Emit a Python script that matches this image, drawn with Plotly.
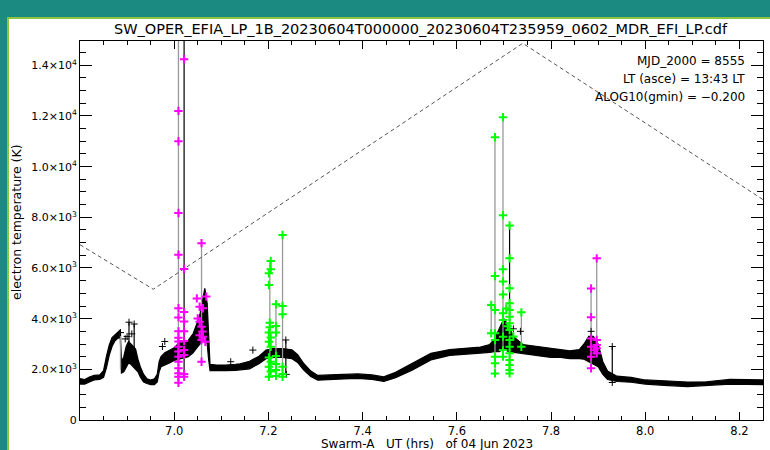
import plotly.graph_objects as go

# ---------------- data ----------------
# black electron-temperature band: time (UT hrs), lower and upper edge (K)
env_t = [6.800, 6.810, 6.820, 6.830, 6.842, 6.850, 6.856, 6.862, 6.868, 6.874, 6.880, 6.8855,
         6.888, 6.893, 6.898, 6.903, 6.908, 6.913, 6.918, 6.923, 6.928, 6.935, 6.942, 6.950,
         6.958, 6.964, 6.968, 6.972, 6.980, 6.990, 7.000, 7.010, 7.020, 7.030, 7.040, 7.048,
         7.055, 7.060, 7.065, 7.070, 7.073, 7.076, 7.090, 7.110, 7.130, 7.140, 7.160, 7.180,
         7.195, 7.210, 7.230, 7.250, 7.262, 7.275, 7.290, 7.305, 7.330, 7.360, 7.390, 7.420,
         7.445, 7.470, 7.505, 7.545, 7.585, 7.620, 7.650, 7.670, 7.680, 7.690, 7.700, 7.710,
         7.720, 7.740, 7.760, 7.780, 7.800, 7.820, 7.840, 7.860, 7.870, 7.880, 7.890, 7.900,
         7.910, 7.920, 7.940, 7.970, 8.000, 8.040, 8.090, 8.130, 8.180, 8.250]
env_lo = [1420, 1420, 1500, 1580, 1600, 1680, 2050, 2550, 2900, 3120, 3220, 3280,
          1850, 1900, 2100, 2250, 2200, 2100, 2000, 1900, 1700, 1500, 1440, 1400,
          1400, 1500, 1900, 2100, 2150, 2250, 2350, 2400, 2450, 2500, 2650, 2850,
          3000, 3200, 3400, 3000, 2400, 1950, 1950, 1950, 1960, 1970, 2020, 2220,
          2420, 2470, 2470, 2420, 2270, 1970, 1720, 1570, 1600, 1620, 1640, 1600,
          1520, 1670, 1970, 2370, 2550, 2590, 2640, 2670, 2700, 2700, 2800, 2700,
          2650, 2620, 2570, 2520, 2470, 2470, 2420, 2420, 2400, 2300, 2200, 2100,
          1800, 1600, 1520, 1490, 1420, 1370, 1320, 1350, 1420, 1400]
env_hi = [1630, 1600, 1700, 1760, 1780, 1950, 2500, 2950, 3250, 3350, 3450, 3550,
          2300, 2500, 2900, 3100, 3000, 2900, 2800, 2400, 2100, 1800, 1630, 1580,
          1630, 1800, 2300, 2500, 2650, 2750, 2850, 3050, 3050, 3150, 3400, 3800,
          4200, 4700, 5200, 4600, 3500, 2200, 2170, 2170, 2200, 2220, 2320, 2520,
          2760, 2820, 2820, 2770, 2580, 2230, 1930, 1760, 1780, 1800, 1820, 1780,
          1700, 1880, 2230, 2630, 2780, 2830, 2880, 2980, 3200, 3600, 4000, 3700,
          3300, 2980, 2930, 2880, 2830, 2780, 2730, 2780, 3000, 3300, 3300, 3000,
          2300, 1930, 1730, 1680, 1580, 1550, 1500, 1510, 1600, 1580]

# isolated black "+" samples
blk_t = [6.886, 6.896, 6.900, 6.904, 6.910, 6.915, 6.975, 6.980, 7.167, 7.120, 7.237, 7.238,
         7.885, 7.930, 7.930, 7.735, 7.720]
blk_v = [3450, 3200, 3300, 3860, 3400, 3790, 2900, 3100, 2760, 2300, 3160, 1800,
         3500, 2900, 1480, 3500, 3600]

# flagged samples (magenta)
mag_t = [7.009, 7.009, 7.009, 7.009, 7.009, 7.009, 7.009, 7.009, 7.009, 7.009, 7.009, 7.009,
         7.009, 7.009, 7.009, 7.009, 7.009,
         7.021, 7.021, 7.021, 7.021, 7.021, 7.021, 7.021, 7.021, 7.021, 7.021,
         7.048, 7.054, 7.061, 7.050, 7.054, 7.058, 7.060, 7.054, 7.061, 7.058, 7.068, 7.066,
         7.058, 7.058,
         7.885, 7.885, 7.885, 7.885, 7.885, 7.885,
         7.897, 7.897, 7.897, 7.897, 7.897, 7.892]
mag_v = [12200, 11000, 8170, 6520, 4410, 4050, 3500, 3250, 3100, 2890, 2700, 2500,
         2300, 2040, 1850, 1710, 1470,
         14240, 5960, 4260, 3890, 3500, 3120, 2760, 2570, 1820, 1710,
         4800, 4470, 4410, 4010, 3880, 3680, 3490, 3350, 3290, 3160, 4870, 3090,
         2300, 6980,
         5190, 4060, 3220, 2890, 2500, 2040,
         6380, 3160, 2960, 2830, 2630, 2750]

# flagged samples (green)
grn_t = [7.205, 7.205, 7.201, 7.201, 7.203, 7.203, 7.201, 7.205, 7.201, 7.205, 7.201, 7.205,
         7.201, 7.205, 7.201,
         7.216, 7.216, 7.216, 7.216, 7.216, 7.216, 7.216,
         7.230, 7.230, 7.230, 7.230, 7.230, 7.230,
         7.673, 7.673,
         7.681, 7.681, 7.681, 7.681, 7.681, 7.681, 7.681, 7.681,
         7.698, 7.698, 7.698, 7.698, 7.698, 7.698, 7.698, 7.698, 7.698, 7.698,
         7.712, 7.712, 7.712, 7.712, 7.712, 7.712, 7.712, 7.712, 7.712, 7.712, 7.712, 7.712,
         7.712, 7.712, 7.712,
         7.705, 7.708, 7.720, 7.737, 7.737]
grn_v = [6280, 5950, 5790, 5330, 3840, 3660, 3450, 3260, 3090, 2890, 2470, 2300,
         2100, 1910, 1710,
         4570, 3710, 3450, 2530, 2210, 1970, 1740,
         7300, 4500, 4170, 2100, 1820, 1710,
         4540, 3420,
         11160, 5680, 4340, 3420, 3160, 2500, 2240, 1840,
         11950, 8080, 5950, 5470, 4950, 4210, 3950, 3290, 2760, 2500,
         7680, 6380, 5200, 4610, 4340, 4080, 3820, 3550, 3160, 2890, 2630, 2370,
         2170, 1970, 1840,
         4400, 3700, 3300, 4250, 2890]

# vertical error-bar strokes (grey and black)
gspk_t = [6.886, 7.009, 7.058, 7.203, 7.216, 7.230, 7.673, 7.681, 7.698, 7.737, 7.885, 7.897]
gspk_lo = [2000, 1470, 2300, 1710, 1740, 1710, 3420, 1840, 2500, 2890, 2040, 2630]
gspk_hi = [3450, 16000, 6980, 6280, 4570, 7300, 4540, 11160, 11950, 4250, 5190, 6380]
bspk_t = [6.904, 6.915, 7.021, 7.237, 7.712, 7.930]
bspk_lo = [2600, 2600, 1710, 1800, 1840, 1480]
bspk_hi = [3860, 3790, 16000, 3160, 7680, 2900]

# dashed orbit trace
orbit_t = [6.800, 6.9555, 7.740, 8.250]
orbit_v = [6920, 5160, 14870, 8700]

x_ticks = [7.0, 7.2, 7.4, 7.6, 7.8, 8.0, 8.2]
x_ticktext = ["7.0", "7.2", "7.4", "7.6", "7.8", "8.0", "8.2"]
y_ticks = [0, 2000, 4000, 6000, 8000, 10000, 12000, 14000]
y_ticktext = ["0", "2.0×10<sup>3</sup>", "4.0×10<sup>3</sup>", "6.0×10<sup>3</sup>",
              "8.0×10<sup>3</sup>", "1.0×10<sup>4</sup>", "1.2×10<sup>4</sup>",
              "1.4×10<sup>4</sup>"]

title_text = "SW_OPER_EFIA_LP_1B_20230604T000000_20230604T235959_0602_MDR_EFI_LP.cdf"
info_lines = ["MJD_2000 = 8555", "LT (asce) = 13:43 LT", "ALOG10(gmin) = −0.200"]

# ---------------- figure ----------------
FONT = "DejaVu Sans"
TEAL = "#1b8a80"
L, R, T, B = 80, 7, 41, 30
W, H = 770, 450
PW, PH = W - L - R, H - T - B


def px_x(px):
    return (px - L) / PW


def px_y(py):
    return (H - B - py) / PH


def segments(ts, lo, hi):
    xs, ys = [], []
    for t, a, b in zip(ts, lo, hi):
        xs += [t, t, None]
        ys += [a, b, None]
    return xs, ys


fig = go.Figure()

fig.add_trace(go.Scatter(
    x=env_t + env_t[::-1], y=env_hi + env_lo[::-1], mode="lines",
    fill="toself", fillcolor="black", line=dict(color="black", width=1.2),
    hoverinfo="skip", showlegend=False))

gx, gy = segments(gspk_t, gspk_lo, gspk_hi)
fig.add_trace(go.Scatter(x=gx, y=gy, mode="lines", line=dict(color="#999999", width=1.3),
                         showlegend=False))
bx, by = segments(bspk_t, bspk_lo, bspk_hi)
fig.add_trace(go.Scatter(x=bx, y=by, mode="lines", line=dict(color="black", width=1.2),
                         showlegend=False))

fig.add_trace(go.Scatter(
    x=blk_t, y=blk_v, mode="markers",
    marker=dict(symbol="cross-thin", size=5, line=dict(color="black", width=1)),
    showlegend=False))

fig.add_trace(go.Scatter(
    x=orbit_t, y=orbit_v, mode="lines",
    line=dict(color="#555555", width=1, dash="4px,3px"), showlegend=False))

fig.add_trace(go.Scatter(
    x=mag_t, y=mag_v, mode="markers",
    marker=dict(symbol="cross-thin", size=6, line=dict(color="#ff00ff", width=2)),
    showlegend=False))
fig.add_trace(go.Scatter(
    x=grn_t, y=grn_v, mode="markers",
    marker=dict(symbol="cross-thin", size=6, line=dict(color="#00ff00", width=2)),
    showlegend=False))

annotations = [
    dict(text=title_text, x=px_x(421), y=px_y(29), xref="paper", yref="paper",
         xanchor="center", yanchor="middle", showarrow=False,
         font=dict(family=FONT, size=14.5, color="black")),
    dict(text="Swarm-A\u00a0\u00a0\u00a0UT (hrs)\u00a0\u00a0\u00a0of 04 Jun 2023",
         x=px_x(427), y=px_y(444), xref="paper", yref="paper",
         xanchor="center", yanchor="middle", showarrow=False,
         font=dict(family=FONT, size=12, color="black")),
    dict(text="electron temperature (K)", x=px_x(17), y=px_y(222), xref="paper", yref="paper",
         xanchor="center", yanchor="middle", textangle=-90, showarrow=False,
         font=dict(family=FONT, size=12.5, color="black")),
]
for i, line in enumerate(info_lines):
    annotations.append(dict(text=line, x=px_x(747), y=px_y(61 + 18 * i),
                            xref="paper", yref="paper", xanchor="right", yanchor="middle",
                            showarrow=False, font=dict(family=FONT, size=12, color="black")))

fig.update_layout(
    width=W, height=H, template="none",
    margin=dict(l=L, r=R, t=T, b=B, pad=0),
    paper_bgcolor=TEAL, plot_bgcolor="white",
    showlegend=False,
    annotations=annotations,
    shapes=[dict(type="rect", xref="paper", yref="paper", layer="below",
                 x0=px_x(8), x1=px_x(790), y0=px_y(470), y1=px_y(18),
                 fillcolor="white", line=dict(color="#8cc63f", width=2))],
    xaxis=dict(range=[6.8, 8.25], tickvals=x_ticks, ticktext=x_ticktext,
               ticks="inside", ticklen=8, tickwidth=1, tickcolor="black",
               minor=dict(dtick=0.05, tick0=7.0, ticks="inside", ticklen=4,
                          tickcolor="black", showgrid=False),
               showline=True, linecolor="black", linewidth=1, mirror="ticks",
               showgrid=False, zeroline=False,
               tickfont=dict(family=FONT, size=11.5, color="black")),
    yaxis=dict(range=[0, 14960], tickvals=y_ticks, ticktext=y_ticktext,
               ticks="inside", ticklen=12, tickwidth=1, tickcolor="black",
               minor=dict(dtick=500, tick0=0, ticks="inside", ticklen=6,
                          tickcolor="black", showgrid=False),
               showline=True, linecolor="black", linewidth=1, mirror="ticks",
               showgrid=False, zeroline=False,
               tickfont=dict(family=FONT, size=11, color="black")),
)

fig.write_html(
    "out.html",
    config={"displayModeBar": False},
    post_script="document.body.style.margin='0';document.body.style.background='" + TEAL + "';",
)
